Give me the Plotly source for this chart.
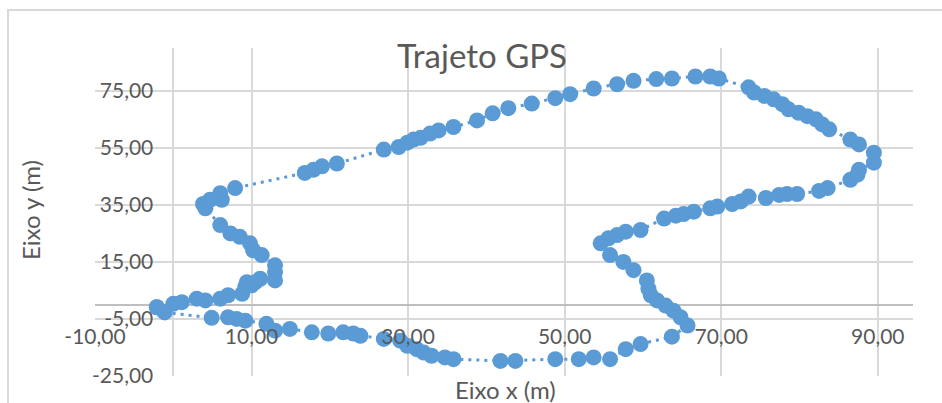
import plotly.graph_objects as go

# GPS track, in metres (closed loop)
x_m = [
    -2.1, 0.0, 1.1, 3.0, 4.1, 6.0, 7.0, 8.8, 9.2, 9.4, 10.0, 10.5, 11.1,
    13.0, 13.0, 13.0, 11.3, 10.2, 9.8, 8.5, 7.3, 6.0, 4.1, 3.8, 4.7, 6.2, 6.0, 7.9,
    16.8, 17.9, 19.0, 20.9, 26.9, 28.8, 29.9, 30.7, 31.6, 32.8, 33.9, 35.8,
    38.8, 40.8, 42.8, 45.8, 48.8, 50.7, 53.7, 56.7, 58.8, 61.7, 63.7, 66.7, 68.6, 69.7,
    73.5, 74.2, 75.5, 76.7, 77.8, 78.6, 79.9, 81.0, 82.1, 82.9, 83.8,
    86.5, 87.6, 89.5, 89.5, 87.6, 87.4, 86.5,
    83.6, 82.5, 79.7, 78.4, 77.4, 75.7, 73.5, 72.5, 71.4, 69.5, 68.6, 66.5, 65.2, 64.2, 62.7,
    59.7, 57.8, 56.7, 55.6, 54.6,
    55.8, 57.5, 58.8, 60.5, 60.7, 61.0, 61.8, 62.9, 63.9, 64.8, 65.7,
    63.7, 59.7, 57.8, 55.8, 53.7, 51.8, 48.8, 43.7, 41.8,
    35.8, 34.7, 33.0, 32.0, 31.1, 29.9, 29.0, 26.9, 23.9, 23.0, 21.7, 19.8, 17.7,
    14.9, 13.0, 11.9, 9.2, 8.1, 7.0, 4.9, -1.1, -2.1,
]
y_m = [
    -0.9, 0.3, 0.9, 2.1, 1.5, 2.1, 3.3, 3.8, 6.2, 7.9, 6.8, 7.9, 9.1,
    8.5, 11.4, 13.8, 17.4, 19.1, 21.5, 23.8, 25.0, 27.9, 33.8, 35.3, 36.8, 36.8, 39.1, 40.9,
    46.2, 47.3, 48.5, 49.5, 54.4, 55.3, 56.8, 57.9, 58.5, 60.0, 61.1, 62.3,
    64.6, 67.1, 68.9, 70.5, 72.4, 73.8, 75.8, 77.3, 78.5, 79.1, 79.3, 80.0, 80.0, 79.3,
    76.2, 74.4, 73.2, 72.0, 70.3, 68.5, 67.3, 66.1, 65.0, 63.2, 61.5,
    57.9, 56.2, 53.3, 49.8, 47.3, 45.6, 43.8,
    40.9, 39.9, 38.8, 38.8, 38.5, 37.4, 37.9, 36.2, 35.3, 34.4, 33.8, 32.6, 31.8, 31.2, 30.2,
    26.2, 25.6, 24.4, 23.3, 21.5,
    17.4, 15.0, 12.1, 8.5, 5.6, 3.3, 1.5, -0.3, -2.1, -4.4, -7.3,
    -11.2, -13.8, -15.6, -19.1, -18.5, -19.1, -19.1, -19.7, -19.7,
    -19.1, -18.5, -17.9, -16.8, -15.6, -14.4, -12.6, -12.0, -10.9, -10.1, -9.7, -10.1, -9.7,
    -8.5, -9.1, -6.7, -5.6, -5.0, -4.4, -4.6, -2.7, -0.9,
]

x_ticks = [-10, 10, 30, 50, 70, 90]
y_ticks = [-25, -5, 15, 35, 55, 75]
x_range = [-10, 94.5]
y_range = [-25, 90]


def pt_label(v):
    return f"{v:.2f}".replace(".", ",")


BLUE = "#5B9BD5"
GRID = "#D9D9D9"
TEXT = "#595959"
FONT = "Lato"

W, H = 942, 403
ML, MR, MT, MB = 95, 29, 48, 27
PW, PH = W - ML - MR, H - MT - MB


def px_x(p):
    return (p - ML) / PW


def px_y(p):
    return 1 - (p - MT) / PH


fig = go.Figure(
    go.Scatter(
        x=x_m,
        y=y_m,
        mode="lines+markers",
        line=dict(color=BLUE, width=3, dash="3px,5px"),
        marker=dict(color=BLUE, size=16, line=dict(width=0)),
        hoverinfo="x+y",
    )
)

fig.update_layout(
    width=W,
    height=H,
    margin=dict(l=ML, r=MR, t=MT, b=MB),
    paper_bgcolor="white",
    plot_bgcolor="white",
    showlegend=False,
    font=dict(family=FONT, color=TEXT, size=21),
    xaxis=dict(
        range=x_range,
        tickmode="array",
        tickvals=x_ticks,
        ticktext=[pt_label(v) for v in x_ticks],
        showgrid=True,
        gridcolor=GRID,
        gridwidth=2,
        zeroline=True,
        zerolinecolor=GRID,
        zerolinewidth=2,
        showline=False,
        anchor="free",
        position=(0 - y_range[0]) / (y_range[1] - y_range[0]),
        ticklabelstandoff=17,
        tickfont=dict(size=21, color=TEXT, family=FONT),
    ),
    yaxis=dict(
        range=y_range,
        tickmode="array",
        tickvals=y_ticks,
        ticktext=[pt_label(v) for v in y_ticks],
        showgrid=True,
        gridcolor=GRID,
        gridwidth=2,
        zeroline=True,
        zerolinecolor="#BFBFBF",
        zerolinewidth=2,
        showline=False,
        anchor="free",
        position=(0 - x_range[0]) / (x_range[1] - x_range[0]),
        ticklabelstandoff=20,
        tickfont=dict(size=21, color=TEXT, family=FONT),
    ),
    shapes=[
        # chart frame
        dict(type="rect", xref="paper", yref="paper",
             x0=px_x(8), x1=px_x(960), y0=px_y(420), y1=px_y(10),
             line=dict(color=GRID, width=2), fillcolor="rgba(0,0,0,0)", layer="above"),
        # title box masks the gridlines behind it
        dict(type="rect", xref="paper", yref="paper",
             x0=px_x(388), x1=px_x(577), y0=px_y(66), y1=px_y(48),
             line=dict(width=0), fillcolor="white", layer="between"),
    ],
    annotations=[
        dict(text="Trajeto GPS", xref="paper", yref="paper",
             x=px_x(482), y=px_y(55), xanchor="center", yanchor="middle",
             showarrow=False, font=dict(size=33, color=TEXT, family=FONT)),
        dict(text="Eixo x (m)", xref="paper", yref="paper",
             x=px_x(505), y=px_y(389), xanchor="center", yanchor="middle",
             showarrow=False, font=dict(size=24, color=TEXT, family=FONT)),
        dict(text="Eixo y (m)", xref="paper", yref="paper",
             x=px_x(30), y=px_y(210), xanchor="center", yanchor="middle",
             textangle=-90, showarrow=False,
             font=dict(size=24, color=TEXT, family=FONT)),
    ],
)

fig.write_html("out.html")
